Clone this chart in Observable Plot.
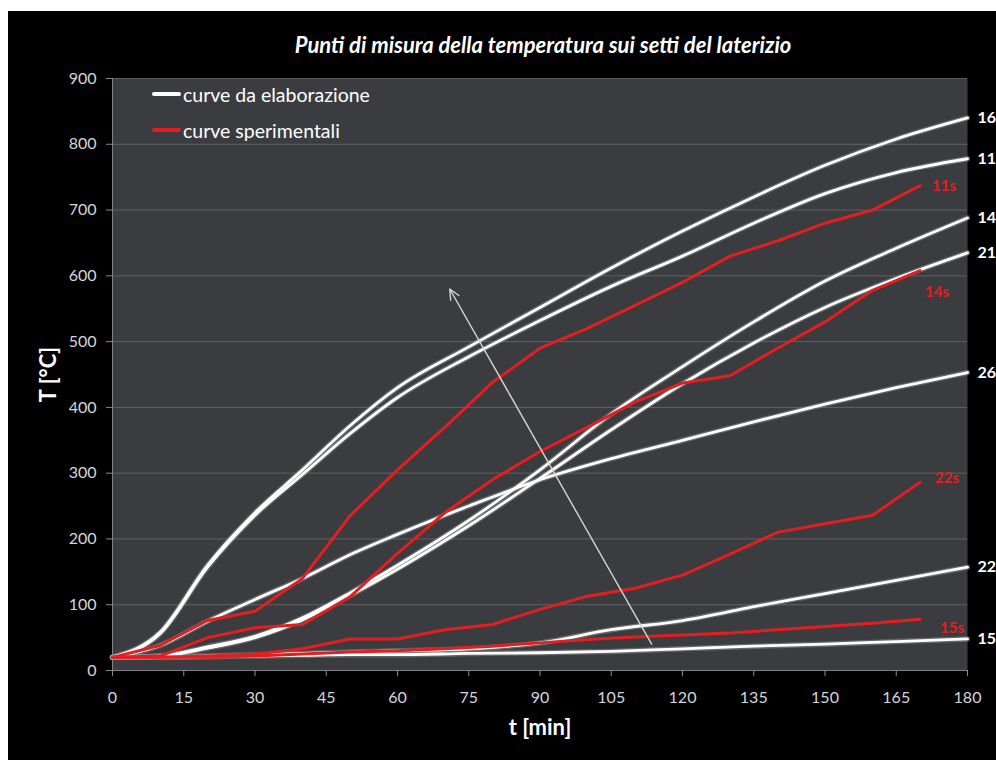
<!DOCTYPE html>
<html>
<head>
<meta charset="utf-8">
<script src="https://cdn.jsdelivr.net/npm/d3@7"></script>
<script src="https://cdn.jsdelivr.net/npm/@observablehq/plot@0.6"></script>
<style>
  html, body { margin: 0; padding: 0; background: #fff; width: 996px; height: 760px; overflow: hidden; }
  #card { position: absolute; left: 8px; top: 11px; width: 988px; height: 749px; background: #000;
          font-family: Lato, "Open Sans", sans-serif; overflow: hidden; }
  #title { position: absolute; left: 535px; top: 22px; transform: translateX(-50%); white-space: nowrap;
           color: #fff; font-weight: bold; font-style: italic; font-size: 22px; line-height: 24px; }
  #legend { position: absolute; left: 144px; top: 65px; color: #fff; font-size: 19.5px; z-index: 2; }
  #legend .row { height: 36px; display: flex; align-items: center; }
  #legend .sw { width: 29px; height: 4px; margin-right: 2px; border-radius: 2px; }
  #chart { position: absolute; left: 0; top: 0; }
</style>
</head>
<body>
<div id="card">
  <div id="title">Punti di misura della temperatura sui setti del laterizio</div>
  <div id="legend">
    <div class="row"><span class="sw" style="background:#fff"></span>curve da elaborazione</div>
    <div class="row"><span class="sw" style="background:#e41e20"></span>curve sperimentali</div>
  </div>
  <div id="chart"></div>
</div>
<script>
// Time axis of the computed curves (minutes)
const minutes = [0, 10, 20, 30, 40, 50, 60, 75, 90, 105, 120, 135, 150, 165, 180];
// Computed temperatures (°C) at each measuring point
const simNames = ["16", "11", "14", "21", "26", "22", "15"];
const sim16 = [20, 58, 160, 240, 305, 372, 430, 492, 552, 612, 668, 720, 768, 808, 840];
const sim11 = [20, 56, 157, 236, 298, 360, 415, 477, 532, 584, 630, 680, 725, 757, 778];
const sim14 = [20, 22, 36, 52, 80, 118, 160, 228, 305, 390, 462, 530, 592, 642, 688];
const sim21 = [20, 22, 34, 50, 77, 114, 154, 220, 292, 366, 436, 498, 552, 596, 635];
const sim26 = [20, 38, 75, 108, 140, 176, 207, 250, 290, 322, 350, 378, 405, 430, 453];
const sim22 = [20, 21, 22, 24, 26, 28, 30, 33, 42, 62, 76, 97, 117, 137, 157];
const sim15 = [20, 20, 21, 22, 23, 24, 24, 26, 27, 29, 33, 37, 40, 44, 48];

// Measurement times of the experimental series (minutes)
const sampleMinutes = [0, 10, 20, 30, 40, 50, 60, 70, 80, 90, 100, 110, 120, 130, 140, 150, 160, 170];
// Measured temperatures (°C)
const expNames = ["11s", "14s", "22s", "15s"];
const exp11s = [20, 38, 76, 90, 140, 235, 305, 370, 438, 490, 520, 555, 590, 630, 653, 680, 700, 737];
const exp14s = [20, 22, 50, 65, 70, 112, 178, 240, 290, 333, 370, 408, 437, 448, 490, 530, 578, 608];
const exp22s = [20, 20, 22, 25, 33, 48, 48, 62, 70, 93, 113, 125, 145, 177, 210, 223, 236, 286];
const exp15s = [20, 20, 20, 22, 25, 28, 30, 33, 37, 42, 47, 51, 54, 57, 62, 67, 72, 78];

// Arrow drawn across the curves (from the lower end to the tip)
const arrowFrom = [113.5, 40];
const arrowTo = [71, 580];

const xTicks = d3.range(0, 181, 15);
const yTicks = d3.range(0, 901, 100);

const simSeries = [sim16, sim11, sim14, sim21, sim26, sim22, sim15];
const expSeries = [exp11s, exp14s, exp22s, exp15s];

const simRows = simNames.flatMap((name, i) => minutes.map((t, j) => ({name, t, T: simSeries[i][j]})));
const expRows = expNames.flatMap((name, i) => sampleMinutes.map((t, j) => ({name, t, T: expSeries[i][j]})));
const simEnds = simNames.map((name, i) => ({name, t: minutes[minutes.length - 1], T: simSeries[i][simSeries[i].length - 1]}));
const expEnds = expNames.map((name, i) => ({name, t: sampleMinutes[sampleMinutes.length - 1], T: expSeries[i][expSeries[i].length - 1]}));

const RED = "#e41e20";
// label offsets next to the last measured point of each experimental series
const expLabelShift = {"11s": [12, 0], "14s": [5, 22], "22s": [15, -4], "15s": [20, 9]};

const plot = Plot.plot({
  width: 988,
  height: 749,
  marginLeft: 104,
  marginRight: 29,
  marginTop: 67,
  marginBottom: 90,
  style: {background: "transparent", fontFamily: "Lato, 'Open Sans', sans-serif", overflow: "visible"},
  x: {domain: [0, 180], ticks: xTicks},
  y: {domain: [0, 900], ticks: yTicks},
  marks: [
    Plot.frame({fill: "#3b3c3f", stroke: null}),
    Plot.gridY(yTicks, {stroke: "#6a6b6f", strokeOpacity: 0.8, strokeWidth: 1}),
    Plot.ruleX([0], {stroke: "#808185", strokeWidth: 1}),
    Plot.ruleY([0], {stroke: "#808185", strokeWidth: 1}),
    Plot.axisY(yTicks, {
      tickSize: 6, tickPadding: 10, stroke: "#8a8b8f", fill: "#d6d6d6", fontSize: 16,
      label: "T [°C]", labelAnchor: "center", labelArrow: "none", labelOffset: 72
    }),
    Plot.axisX(xTicks, {
      tickSize: 6, tickPadding: 15, stroke: "#8a8b8f", fill: "#d6d6d6", fontSize: 16,
      label: "t [min]", labelAnchor: "center", labelArrow: "none", labelOffset: 64
    }),
    // computed curves: soft halo then white stroke
    Plot.line(simRows, {x: "t", y: "T", z: "name", curve: "monotone-x", stroke: "#9a9a9a", strokeOpacity: 0.45, strokeWidth: 5.5}),
    Plot.line(simRows, {x: "t", y: "T", z: "name", curve: "monotone-x", stroke: "#ffffff", strokeWidth: 2.8}),
    // experimental curves
    Plot.line(expRows, {x: "t", y: "T", z: "name", stroke: RED, strokeWidth: 3}),
    Plot.arrow([{x1: arrowFrom[0], y1: arrowFrom[1], x2: arrowTo[0], y2: arrowTo[1]}], {
      x1: "x1", y1: "y1", x2: "x2", y2: "y2", stroke: "#d4d4d4", strokeWidth: 1.4, headLength: 12, headAngle: 50
    }),
    Plot.text(simEnds, {x: "t", y: "T", text: "name", dx: 10, textAnchor: "start", fill: "#fff", fontWeight: "bold", fontSize: 16}),
    ...expEnds.map(d => Plot.text([d], {
      x: "t", y: "T", text: "name", dx: expLabelShift[d.name][0], dy: expLabelShift[d.name][1],
      textAnchor: "start", fill: RED, fontWeight: "bold", fontSize: 15
    }))
  ]
});
document.getElementById("chart").append(plot);
// axis titles in bold white
d3.select(plot).selectAll("[aria-label='y-axis label'] text, [aria-label='x-axis label'] text")
  .attr("fill", "#fff").style("font-weight", "bold").style("font-size", "22px");
</script>
</body>
</html>
